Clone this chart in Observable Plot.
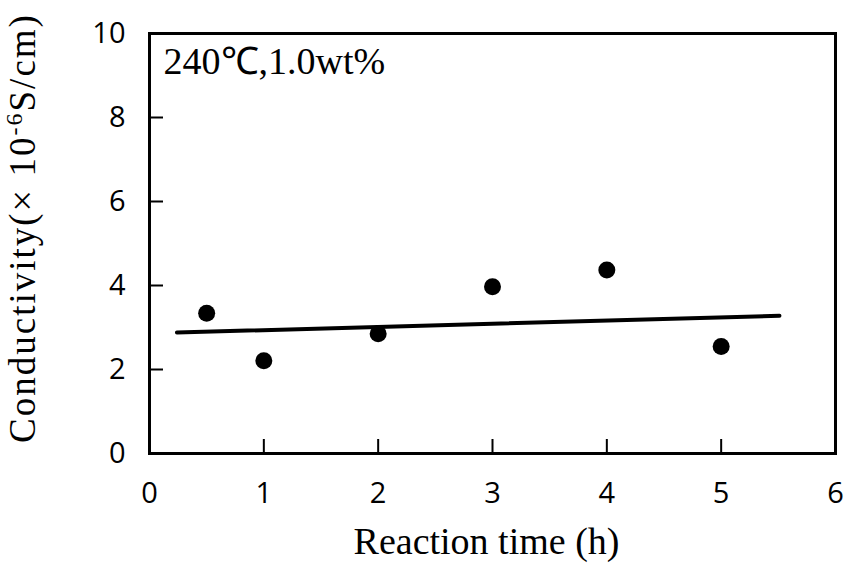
<!DOCTYPE html>
<html><head><meta charset="utf-8">
<script src="https://cdn.jsdelivr.net/npm/d3@7"></script>
<script src="https://cdn.jsdelivr.net/npm/@observablehq/plot@0.6"></script>
<style>body{margin:0;background:#fff}#chart svg{display:block}</style>
</head><body><div id="chart"></div>
<script>
const reactionTime = [0.5, 1, 2, 3, 4, 5];
const conductivity = [3.34, 2.21, 2.85, 3.97, 4.37, 2.55];
const fitTime = [0.24, 5.51];
const fitValue = [2.88, 3.28];
const xTicks = [0, 1, 2, 3, 4, 5, 6];
const yTicks = [0, 2, 4, 6, 8, 10];
const xInnerTicks = [1, 2, 3, 4, 5];
const yInnerTicks = [2, 4, 6, 8];
const annotation = "240℃,1.0wt%";
const xTitle = "Reaction time (h)";

const W = 847, H = 570, mL = 149, mR = 12, mT = 33, mB = 117;
const innerW = W - mL - mR, innerH = H - mT - mB;

const points = reactionTime.map((t, i) => ({t, c: conductivity[i]}));
const fit = fitTime.map((t, i) => ({t, c: fitValue[i]}));

const chart = Plot.plot({
  width: W, height: H,
  marginLeft: mL, marginRight: mR, marginTop: mT, marginBottom: mB,
  style: {fontFamily: "'Open Sans', sans-serif", fontSize: "29px", color: "#000", background: "#fff"},
  x: {domain: [0, 6]},
  y: {domain: [0, 10]},
  marks: [
    Plot.axisX(xTicks, {tickSize: 0, tickPadding: 29, label: null, fontSize: 29, tickFormat: d3.format("d")}),
    Plot.axisY(yTicks, {tickSize: 0, tickPadding: 24, label: null, fontSize: 29, tickFormat: d3.format("d")}),
    Plot.tickX(xInnerTicks, {x: d => d, stroke: "#000", strokeWidth: 2, insetTop: innerH - 14}),
    Plot.tickY(yInnerTicks, {y: d => d, stroke: "#000", strokeWidth: 2, insetRight: innerW - 14}),
    Plot.frame({stroke: "#000", strokeWidth: 3}),
    Plot.line(fit, {x: "t", y: "c", stroke: "#000", strokeWidth: 4}),
    Plot.dot(points, {x: "t", y: "c", r: 8.5, fill: "#000", stroke: null}),
    Plot.text([annotation], {frameAnchor: "top-left", dx: 14, dy: 14, fontFamily: "'Liberation Serif', serif", fontSize: 38, lineAnchor: "top", textAnchor: "start", fill: "#000"}),
    Plot.text([xTitle], {frameAnchor: "bottom", dx: -6, dy: 100, fontFamily: "'Liberation Serif', serif", fontSize: 38, lineAnchor: "bottom", fill: "#000", letterSpacing: 5})
  ]
});
document.getElementById("chart").appendChild(chart);

// y-axis title with superscript
const svg = d3.select(chart);
const yt = svg.append("text")
  .attr("transform", `translate(35,228) rotate(-90)`)
  .attr("text-anchor", "middle")
  .attr("font-family", "'Liberation Serif', serif")
  .attr("font-size", 37)
  .attr("letter-spacing", 2)
  .attr("fill", "#000");
yt.append("tspan").text("Conductivity(");
yt.append("tspan").attr("font-size", 38).text("× ");
yt.append("tspan").text("10");
yt.append("tspan").attr("baseline-shift", "super").attr("font-size", 24).text("-6");
yt.append("tspan").text("S/cm)");
</script>
</body></html>
